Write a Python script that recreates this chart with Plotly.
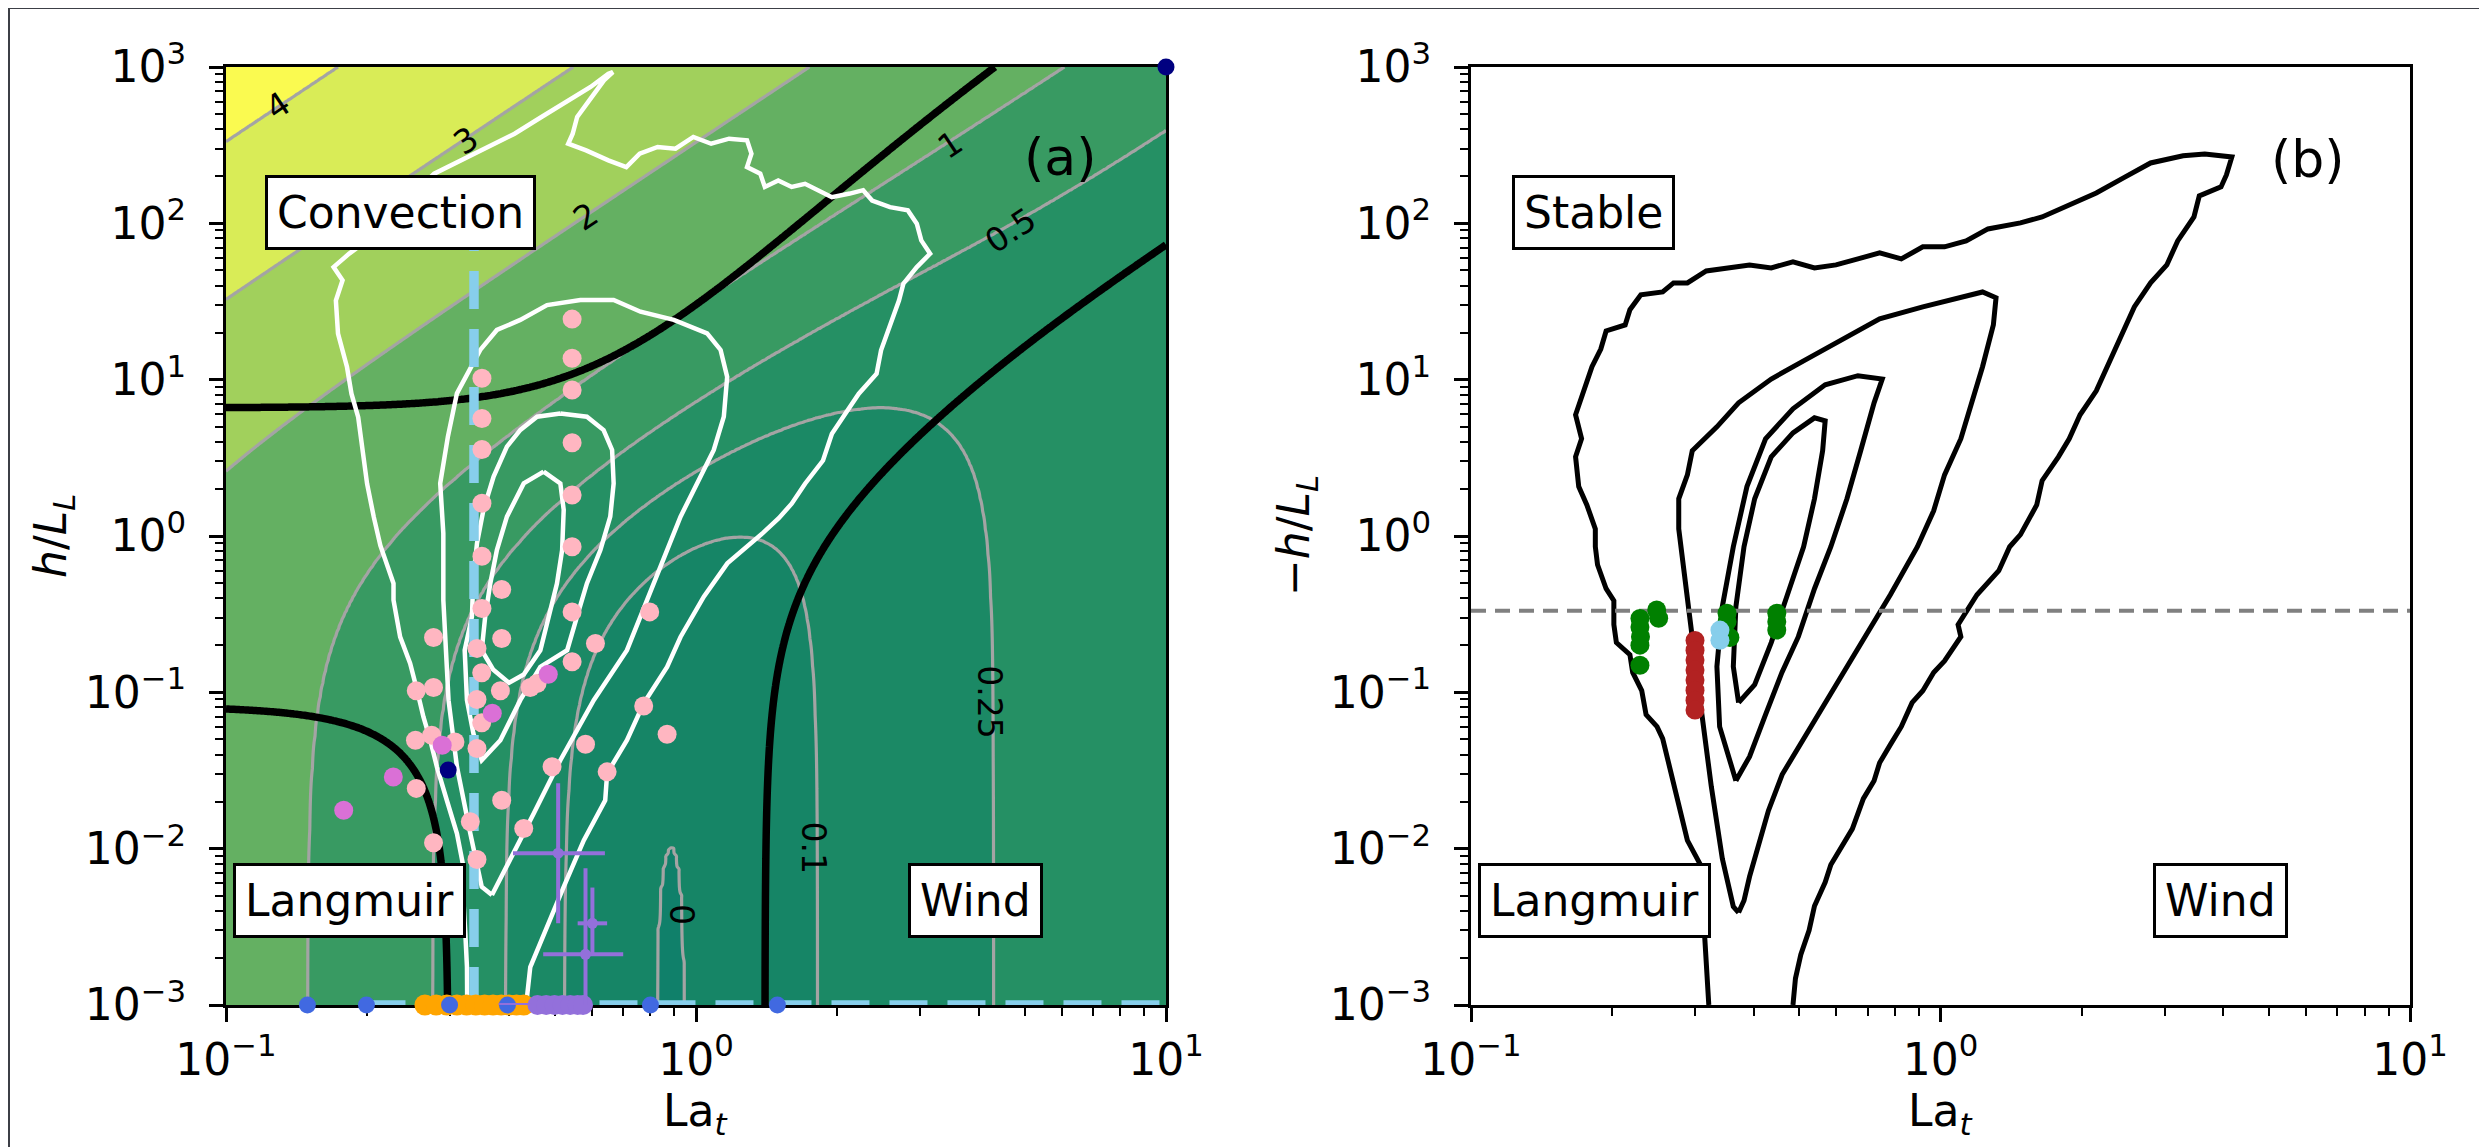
import numpy as np
import plotly.graph_objects as go

# target screen size, and the 8 px page margin the browser adds around the figure
W, H = 2487, 1147
OFF = 8
WF, HF = W - OFF, H - OFF

# ---------------- theoretical regime field (panel a background) ----------------
A_SHEAR, A_LANG, A_CONV = 2.0, 0.22, 0.3      # dissipation scaling coefficients
DOMINANCE = 0.9                               # regime boundary: one term = 90 % of total
la_grid = np.logspace(-1, 1, 360)
hl_grid = np.logspace(-3, 3, 360)
field_levels = [0, 0.1, 0.25, 0.5, 1, 2, 3, 4]
field_colors = ["#10806a", "#168566", "#1b8965", "#259064", "#389a62",
                "#64b062", "#a1d05c", "#d9ec57", "#fafa50"]

# contour labels of the field
label_text = ["4", "3", "2", "1", "0.5", "0.25", "0.1", "0"]
label_la = [0.129, 0.324, 0.582, 3.48, 4.66, 4.22, 1.78, 0.935]
label_hl = [571, 341, 111, 317, 90.6, 0.0865, 0.0102, 0.00381]
label_angle = [-33.7, -33.7, -33.7, -33.7, -33.7, 90, 90, 90]

# ---------------- observed joint-pdf contours, panel (a) (white) ----------------
outer_a = [(0.326, 0.001), (0.3256, 0.00175), (0.323, 0.00287), (0.320, 0.00469), (0.320, 0.00766),
           (0.310, 0.0125), (0.295, 0.0204), (0.281, 0.0334), (0.272, 0.0494), (0.263, 0.0698),
           (0.255, 0.103), (0.2465, 0.153), (0.2347, 0.2265), (0.2272, 0.389), (0.2272, 0.497),
           (0.213, 0.87), (0.2063, 1.32), (0.1996, 2.16), (0.1953, 3.52), (0.1911, 5.76),
           (0.1849, 8.13), (0.1809, 12.05), (0.1731, 19.7), (0.1713, 32.1), (0.177, 43.2),
           (0.1694, 52.5), (0.1829, 64), (0.1911, 70.5), (0.2773, 208), (0.3161, 253),
           (0.3605, 307), (0.4111, 374), (0.469, 479), (0.5347, 612), (0.5966, 745),
           (0.651, 906), (0.6656, 929), (0.637, 822), (0.5837, 582), (0.5587, 479),
           (0.5466, 374), (0.5347, 323), (0.5837, 293), (0.651, 253), (0.7108, 229),
           (0.7589, 279), (0.8286, 308), (0.9045, 300), (0.987, 357), (1.077, 323),
           (1.176, 348), (1.284, 340), (1.312, 279), (1.284, 229), (1.370, 208),
           (1.401, 171), (1.496, 188), (1.598, 171), (1.706, 179), (1.823, 163),
           (1.946, 147), (2.124, 155), (2.268, 163), (2.370, 140), (2.587, 127),
           (2.823, 121), (2.950, 99.5), (3.015, 77.8), (3.149, 64), (2.950, 52.5),
           (2.762, 41.1), (2.703, 32.1), (2.587, 21.7), (2.476, 15.4), (2.422, 10.9),
           (2.220, 8.13), (2.078, 6.05), (1.946, 4.51), (1.863, 3.04), (1.706, 2.16),
           (1.598, 1.61), (1.50, 1.3), (1.39, 1.05), (1.306, 0.897), (1.166, 0.668),
           (1.039, 0.409), (0.927, 0.226), (0.868, 0.1455), (0.774, 0.085), (0.713, 0.0494),
           (0.647, 0.0303), (0.641, 0.0204), (0.577, 0.0113), (0.523, 0.0057), (0.482, 0.00316),
           (0.444, 0.00175), (0.437, 0.00113), (0.435, 0.001)]
second_a = [(0.368, 0.00505), (0.350, 0.0057), (0.331, 0.0125), (0.310, 0.0334), (0.2975, 0.0891),
            (0.2926, 0.238), (0.290, 0.389), (0.290, 0.64), (0.290, 1.04), (0.2856, 2.17),
            (0.2965, 4.31), (0.310, 8.17), (0.3475, 15.5), (0.377, 20.8), (0.4228, 24.1),
            (0.482, 30.0), (0.5675, 32.3), (0.668, 32.3), (0.762, 27.2), (0.897, 24.1),
            (1.056, 19.8), (1.128, 15.5), (1.165, 10.4), (1.146, 5.8), (1.091, 3.55),
            (1.022, 2.39), (0.927, 1.33), (0.868, 0.813), (0.813, 0.497), (0.762, 0.304),
            (0.713, 0.186), (0.606, 0.0891), (0.5145, 0.0368), (0.4516, 0.0168), (0.396, 0.00766),
            (0.368, 0.00505)]
third_a = [(0.5145, 6.08), (0.586, 5.8), (0.636, 4.76), (0.663, 3.55), (0.668, 2.17),
           (0.657, 1.33), (0.626, 0.813), (0.586, 0.497), (0.558, 0.304), (0.532, 0.186),
           (0.4665, 0.1457), (0.4228, 0.0891), (0.3835, 0.0494), (0.350, 0.0368), (0.336, 0.0545),
           (0.3256, 0.0891), (0.322, 0.186), (0.3336, 0.304), (0.336, 0.548), (0.342, 0.897),
           (0.353, 1.47), (0.371, 2.40), (0.396, 3.73), (0.423, 4.77), (0.459, 5.8),
           (0.5145, 6.08)]
fourth_a = [(0.474, 2.58), (0.5145, 2.17), (0.523, 1.47), (0.519, 0.813), (0.506, 0.497),
            (0.486, 0.304), (0.4665, 0.186), (0.43, 0.13), (0.40, 0.115), (0.37, 0.14),
            (0.350, 0.186), (0.356, 0.304), (0.365, 0.497), (0.377, 0.813), (0.396, 1.33),
            (0.43, 2.17), (0.474, 2.58)]

# ---------------- observed joint-pdf contours, panel (b) (black) ----------------
outer_b = [(0.321, 0.001), (0.315, 0.00274), (0.308, 0.0079), (0.289, 0.0113), (0.277, 0.0191),
           (0.2665, 0.0325), (0.256, 0.0506), (0.249, 0.0603), (0.236, 0.072), (0.231, 0.1025),
           (0.221, 0.134), (0.218, 0.174), (0.204, 0.208), (0.2015, 0.271), (0.2015, 0.386),
           (0.194, 0.46), (0.186, 0.655), (0.184, 0.854), (0.184, 1.11), (0.1765, 1.58),
           (0.1696, 2.07), (0.167, 3.21), (0.172, 4.19), (0.167, 5.96), (0.174, 8.49),
           (0.181, 12.1), (0.189, 15.7), (0.194, 20.5), (0.213, 22.4), (0.218, 28.0),
           (0.230, 34.9), (0.256, 36.4), (0.270, 41.6), (0.289, 41.6), (0.317, 49.6),
           (0.352, 51.9), (0.392, 54.2), (0.436, 51.9), (0.485, 56.7), (0.539, 51.9),
           (0.599, 54.2), (0.667, 59.2), (0.742, 64.7), (0.825, 59.2), (0.917, 70.7),
           (1.02, 70.7), (1.134, 77.2), (1.262, 92.1), (1.48, 100.6), (1.646, 109.9),
           (1.88, 131.2), (2.147, 156.5), (2.453, 195.2), (2.802, 243.4), (3.286, 270.5),
           (3.655, 277.8), (4.174, 265.9), (4.064, 204), (3.958, 171), (3.558, 149.7),
           (3.466, 109.9), (3.200, 77.2), (3.034, 54.2), (2.802, 41.6), (2.587, 29.2),
           (2.453, 20.5), (2.265, 12.1), (2.147, 8.49), (1.983, 5.96), (1.88, 4.19),
           (1.783, 3.21), (1.646, 2.26), (1.603, 1.58), (1.48, 1.02), (1.404, 0.854),
           (1.331, 0.60), (1.196, 0.421), (1.134, 0.323), (1.09, 0.271), (1.105, 0.227),
           (1.02, 0.159), (0.967, 0.134), (0.917, 0.1025), (0.870, 0.0859), (0.825, 0.0603),
           (0.782, 0.0463), (0.742, 0.0355), (0.722, 0.0272), (0.685, 0.0209), (0.649, 0.0134),
           (0.616, 0.0103), (0.584, 0.0079), (0.568, 0.0061), (0.539, 0.0043), (0.525, 0.003),
           (0.504, 0.0021), (0.491, 0.00148), (0.485, 0.001)]
second_b = [(0.3715, 0.0039), (0.362, 0.00426), (0.343, 0.00865), (0.325, 0.0249), (0.308, 0.0859),
            (0.296, 0.227), (0.285, 0.549), (0.277, 1.11), (0.277, 1.73), (0.289, 2.46),
            (0.296, 3.51), (0.334, 4.99), (0.3715, 7.11), (0.436, 10.1), (0.511, 13.2),
            (0.632, 18.8), (0.742, 24.5), (0.917, 29.2), (1.105, 33.4), (1.229, 36.4),
            (1.313, 33.4), (1.296, 22.4), (1.229, 12.1), (1.165, 7.11), (1.105, 4.19),
            (1.02, 2.46), (0.967, 1.45), (0.893, 0.854), (0.782, 0.421), (0.703, 0.248),
            (0.632, 0.146), (0.568, 0.0859), (0.511, 0.0506), (0.46, 0.0298), (0.43, 0.0175),
            (0.408, 0.0103), (0.392, 0.00663), (0.3815, 0.00466), (0.3715, 0.0039)]
third_b = [(0.3666, 0.0272), (0.3385, 0.0603), (0.334, 0.146), (0.343, 0.353), (0.362, 0.854),
           (0.387, 2.07), (0.424, 4.19), (0.485, 6.51), (0.568, 9.27), (0.667, 10.6),
           (0.7515, 10.1), (0.722, 7.11), (0.676, 3.51), (0.632, 1.73), (0.584, 0.854),
           (0.539, 0.46), (0.498, 0.227), (0.4595, 0.134), (0.424, 0.072), (0.392, 0.0388),
           (0.3666, 0.0272)]
fourth_b = [(0.3715, 0.0859), (0.362, 0.146), (0.3666, 0.353), (0.3815, 0.854), (0.402, 1.73),
            (0.436, 3.21), (0.485, 4.57), (0.539, 5.70), (0.568, 5.46), (0.561, 3.51),
            (0.539, 1.73), (0.511, 0.854), (0.472, 0.421), (0.436, 0.208), (0.402, 0.112),
            (0.3715, 0.0859)]

# ---------------- point observations, panel (a) ----------------
pink_a = [(0.545, 24.4), (0.545, 13.7), (0.545, 8.58), (0.3504, 10.2), (0.3504, 5.65),
          (0.3504, 3.58), (0.545, 3.95), (0.545, 1.83), (0.3504, 1.62), (0.545, 0.853),
          (0.3504, 0.743), (0.386, 0.455), (0.3504, 0.344), (0.545, 0.327), (0.797, 0.327),
          (0.2764, 0.2244), (0.386, 0.221), (0.611, 0.2055), (0.342, 0.191), (0.350, 0.1333),
          (0.545, 0.1567), (0.254, 0.1023), (0.2764, 0.1075), (0.3835, 0.1023), (0.342, 0.090),
          (0.444, 0.1075), (0.459, 0.114), (0.350, 0.0638), (0.774, 0.0817), (0.253, 0.0494),
          (0.274, 0.0532), (0.307, 0.0482), (0.342, 0.0437), (0.582, 0.0466), (0.868, 0.054),
          (0.494, 0.0334), (0.647, 0.031), (0.254, 0.0243), (0.386, 0.0204), (0.331, 0.01485),
          (0.430, 0.01346), (0.2764, 0.0109), (0.342, 0.00853), (0.2975, 0.0066), (0.253, 0.00473)]
orchid_a = [(0.485, 0.1306), (0.3686, 0.0736), (0.2884, 0.0459), (0.227, 0.0287), (0.178, 0.0176)]
navy_a = [(0.297, 0.0318), (10.0, 1000.0)]
royal_la = [0.149, 0.199, 0.299, 0.397, 0.80, 1.49]
royal_hl = [0.001] * 6
orange_la = [0.265, 0.28, 0.295, 0.31, 0.325, 0.34, 0.355, 0.37, 0.385, 0.40, 0.415, 0.43]
orange_hl = [0.001] * 12
les_v_la, les_v_hl = [0.337, 0.337], [0.001, 100]      # light-blue dashed, vertical
les_h_la, les_h_hl = [0.2, 10.0], [0.001, 0.001]        # light-blue dashed, horizontal
purple_la = [0.509, 0.602, 0.582]
purple_hl = [0.00935, 0.00333, 0.00211]
purple_xm = [0.101, 0.042, 0.109]
purple_xp = [0.131, 0.045, 0.118]
purple_ym = [0.00602, 0.00122, 0.00111]
purple_yp = [0.01685, 0.00231, 0.00539]
purple0_la = [0.46, 0.48, 0.50, 0.52, 0.54, 0.56, 0.575]
purple0_hl = [0.001] * 7
purple0_xm = [0.08, 0.03, 0.03, 0.03, 0.03, 0.03, 0.02]
purple0_xp = [0.03, 0.03, 0.03, 0.03, 0.03, 0.02, 0.02]

# ---------------- point observations, panel (b) ----------------
green_b = [(0.229, 0.297), (0.229, 0.262), (0.2296, 0.2265), (0.229, 0.2004), (0.229, 0.149),
           (0.2486, 0.336), (0.251, 0.298), (0.351, 0.321), (0.351, 0.283), (0.356, 0.224),
           (0.448, 0.321), (0.448, 0.283), (0.448, 0.25)]
red_la = [0.30] * 8
red_hl = [0.2145, 0.186, 0.161, 0.139, 0.120, 0.103, 0.089, 0.077]
sky_b = [(0.339, 0.25), (0.339, 0.215)]
neutral_hl = 0.333

# ---------------- text ----------------
box_a = [("Convection", 0.235, 118), ("Langmuir", 0.183, 0.00468), ("Wind", 3.94, 0.00468)]
box_b = [("Stable", 0.182, 118), ("Langmuir", 0.183, 0.00468), ("Wind", 3.94, 0.00468)]
panel_tag = [("(a)", 5.95, 265, "x", "y"), ("(b)", 6.07, 258, "x2", "y2")]

FONT = "DejaVu Sans"
FS = 44
fig = go.Figure()


def xy(pairs):
    return [p[0] for p in pairs], [p[1] for p in pairs]


# ---- background field ----
LA, HL = np.meshgrid(la_grid, hl_grid)
shear = A_SHEAR * (1 - np.exp(-LA / 2))
lang = A_LANG / LA ** 2
conv = A_CONV * HL / LA ** 2
total = shear + lang + conv
f = np.log10(total)
xp = [min(f.min(), -0.5) - 1] + field_levels + [f.max() + 1]
fp = list(range(-1, len(field_levels) + 1))
zi = np.interp(f, xp, fp)
ncol = len(field_colors)
cscale = [[j / (ncol - 1), c] for j, c in enumerate(field_colors)]
fig.add_trace(go.Contour(x=la_grid, y=hl_grid, z=zi, autocontour=False,
                         contours=dict(start=0, end=len(field_levels) - 1, size=1,
                                       coloring="fill", showlines=True),
                         line=dict(color="#a4a4a4", width=3.2, smoothing=1),
                         colorscale=cscale, showscale=False, hoverinfo="skip",
                         xaxis="x", yaxis="y"))
for term in (shear, lang, conv):
    fig.add_trace(go.Contour(x=la_grid, y=hl_grid, z=term / total, autocontour=False,
                             contours=dict(start=DOMINANCE, end=DOMINANCE, size=0.1,
                                           coloring="none"),
                             line=dict(color="black", width=7.5), showscale=False,
                             hoverinfo="skip", xaxis="x", yaxis="y"))

# ---- white pdf contours ----
for pts in (outer_a, second_a, third_a, fourth_a):
    X, Y = xy(pts)
    fig.add_trace(go.Scatter(x=X, y=Y, mode="lines", line=dict(color="white", width=4.5),
                             xaxis="x", yaxis="y", hoverinfo="skip"))

# ---- LES lines ----
for X, Y in ((les_v_la, les_v_hl), (les_h_la, les_h_hl)):
    fig.add_trace(go.Scatter(x=X, y=Y, mode="lines", cliponaxis=False,
                             line=dict(color="#87ceeb", width=9.5, dash="38px,20px"),
                             xaxis="x", yaxis="y"))

fig.add_trace(go.Scatter(x=orange_la, y=orange_hl, mode="markers", cliponaxis=False,
                         marker=dict(color="orange", size=21, line=dict(width=0)),
                         xaxis="x", yaxis="y"))
fig.add_trace(go.Scatter(x=royal_la, y=royal_hl, mode="markers", cliponaxis=False,
                         marker=dict(color="#4169e1", size=17, line=dict(width=0)),
                         xaxis="x", yaxis="y"))
X, Y = xy(pink_a)
fig.add_trace(go.Scatter(x=X, y=Y, mode="markers", cliponaxis=False,
                         marker=dict(color="#ffb6c1", size=19, line=dict(width=0)),
                         xaxis="x", yaxis="y"))
X, Y = xy(orchid_a)
fig.add_trace(go.Scatter(x=X, y=Y, mode="markers", cliponaxis=False,
                         marker=dict(color="#da70d6", size=19, line=dict(width=0)),
                         xaxis="x", yaxis="y"))
X, Y = xy(navy_a)
fig.add_trace(go.Scatter(x=X, y=Y, mode="markers", cliponaxis=False,
                         marker=dict(color="#000080", size=17, line=dict(width=0)),
                         xaxis="x", yaxis="y"))
fig.add_trace(go.Scatter(x=purple0_la, y=purple0_hl, mode="markers", cliponaxis=False,
                         marker=dict(color="#9370db", size=20, line=dict(width=0)),
                         error_x=dict(type="data", symmetric=False, array=purple0_xp,
                                      arrayminus=purple0_xm, color="#9370db", thickness=4, width=0),
                         xaxis="x", yaxis="y"))
fig.add_trace(go.Scatter(x=purple_la, y=purple_hl, mode="markers", cliponaxis=False,
                         marker=dict(color="#9370db", size=11, line=dict(width=0)),
                         error_x=dict(type="data", symmetric=False, array=purple_xp,
                                      arrayminus=purple_xm, color="#9370db", thickness=4, width=0),
                         error_y=dict(type="data", symmetric=False, array=purple_yp,
                                      arrayminus=purple_ym, color="#9370db", thickness=4, width=0),
                         xaxis="x", yaxis="y"))

# ---- panel b ----
for pts in (outer_b, second_b, third_b, fourth_b):
    X, Y = xy(pts)
    fig.add_trace(go.Scatter(x=X, y=Y, mode="lines", line=dict(color="black", width=5),
                             xaxis="x2", yaxis="y2", hoverinfo="skip"))
fig.add_trace(go.Scatter(x=[0.1, 10], y=[neutral_hl, neutral_hl], mode="lines",
                         line=dict(color="#808080", width=4, dash="15px,9px"),
                         xaxis="x2", yaxis="y2"))
X, Y = xy(green_b)
fig.add_trace(go.Scatter(x=X, y=Y, mode="markers",
                         marker=dict(color="green", size=19, line=dict(width=0)),
                         xaxis="x2", yaxis="y2"))
fig.add_trace(go.Scatter(x=red_la, y=red_hl, mode="markers",
                         marker=dict(color="#b22222", size=19, line=dict(width=0)),
                         xaxis="x2", yaxis="y2"))
X, Y = xy(sky_b)
fig.add_trace(go.Scatter(x=X, y=Y, mode="markers",
                         marker=dict(color="#87ceeb", size=19, line=dict(width=0)),
                         xaxis="x2", yaxis="y2"))

# ---------------- axes ----------------
x_major = [0.1, 1, 10]
x_text = ["10<sup>−1</sup>", "10<sup>0</sup>", "10<sup>1</sup>"]
y_major = [1e-3, 1e-2, 1e-1, 1, 10, 100, 1000]
y_text = ["10<sup>−3</sup>", "10<sup>−2</sup>", "10<sup>−1</sup>", "10<sup>0</sup>",
          "10<sup>1</sup>", "10<sup>2</sup>", "10<sup>3</sup>"]
x_minor = [m * d for d in (0.1, 1) for m in range(2, 10)]
y_minor = [m * d for d in (1e-3, 1e-2, 1e-1, 1, 10, 100) for m in range(2, 10)]


def axis(domain, rng, vals, text, minor, anchor, standoff):
    return dict(type="log", domain=domain, range=rng, anchor=anchor, automargin=False,
                showline=True, mirror=True, linecolor="black", linewidth=3,
                ticks="outside", ticklen=14, tickwidth=3, tickcolor="black",
                tickmode="array", tickvals=vals, ticktext=text,
                tickfont=dict(family=FONT, size=FS, color="black"),
                ticklabelstandoff=standoff,
                showgrid=False, zeroline=False, layer="below traces",
                minor=dict(tickmode="array", tickvals=minor, ticks="outside",
                           ticklen=8, tickwidth=2.4, tickcolor="black", showgrid=False))


def px_x(x):          # screen pixel -> paper fraction
    return (x - OFF) / WF


def px_y(y):
    return 1 - (y - OFF) / HF


XA = [px_x(226), px_x(1166)]
XB = [px_x(1471), px_x(2410)]
YD = [px_y(1005), px_y(67)]

annotations = []
for t, la, hl, ang in zip(label_text, label_la, label_hl, label_angle):
    annotations.append(dict(x=np.log10(la), y=np.log10(hl), xref="x", yref="y", text=t,
                            showarrow=False, textangle=ang, xanchor="center", yanchor="middle",
                            font=dict(family=FONT, size=33, color="black")))
for boxes, xr, yr in ((box_a, "x", "y"), (box_b, "x2", "y2")):
    for t, la, hl in boxes:
        annotations.append(dict(x=np.log10(la), y=np.log10(hl), xref=xr, yref=yr, text=t,
                                showarrow=False, bgcolor="white", bordercolor="black",
                                borderwidth=3, borderpad=9, xanchor="center", yanchor="middle",
                                font=dict(family=FONT, size=FS, color="black")))
for t, la, hl, xr, yr in panel_tag:
    annotations.append(dict(x=np.log10(la), y=np.log10(hl), xref=xr, yref=yr, text=t,
                            showarrow=False, xanchor="center", yanchor="middle",
                            font=dict(family=FONT, size=52, color="black")))
for xc in (695.5, 1940.5):
    annotations.append(dict(x=px_x(xc), y=px_y(1113), xref="paper", yref="paper",
                            text="La<sub><i>t</i></sub>", showarrow=False,
                            xanchor="center", yanchor="middle",
                            font=dict(family=FONT, size=FS, color="black")))
for xc, t in ((54, "<i>h</i>/<i>L</i><sub><i>L</i></sub>"),
              (1297, "−<i>h</i>/<i>L</i><sub><i>L</i></sub>")):
    annotations.append(dict(x=px_x(xc), y=px_y(536), xref="paper", yref="paper", textangle=-90,
                            text=t, showarrow=False, xanchor="center", yanchor="middle",
                            font=dict(family=FONT, size=FS, color="black")))

fig.update_layout(
    width=WF, height=HF, autosize=False,
    margin=dict(l=0, r=0, t=0, b=0, pad=0, autoexpand=False),
    paper_bgcolor="#3c3f46", plot_bgcolor="white", showlegend=False,
    font=dict(family=FONT, color="black"),
    xaxis=axis(XA, [-1, 1], x_major, x_text, x_minor, "y", 0),
    yaxis=axis(YD, [-3, 3], y_major, y_text, y_minor, "x", 14),
    xaxis2=axis(XB, [-1, 1], x_major, x_text, x_minor, "y2", 0),
    yaxis2=axis(YD, [-3, 3], y_major, y_text, y_minor, "x2", 14),
    annotations=annotations,
    shapes=[dict(type="rect", xref="paper", yref="paper", x0=px_x(10), x1=px_x(2480),
                 y0=0, y1=px_y(9), fillcolor="white", line=dict(width=0), layer="below")],
)

fig.write_html("out.html")
